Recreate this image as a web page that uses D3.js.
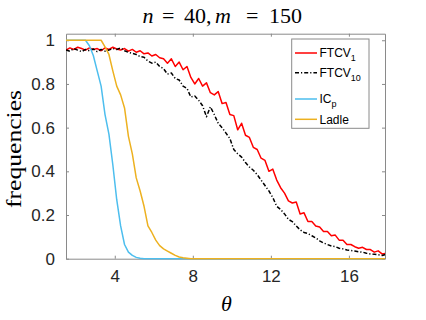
<!DOCTYPE html>
<html>
<head>
<meta charset="utf-8">
<script src="https://cdn.jsdelivr.net/npm/d3@7"></script>
<style>
html,body{margin:0;padding:0;background:#fff;}
svg{display:block;}
</style>
</head>
<body>
<svg id="chart" width="426" height="320"></svg>
<script>
// ---- data ----
const theta = [1.5,1.7,1.9,2.1,2.3,2.5,2.7,2.9,3.1,3.3,3.5,3.7,3.9,4.1,4.3,4.5,4.7,4.9,5.1,5.3,5.5,5.7,5.9,6.1,6.3,6.5,6.7,6.9,7.1,7.3,7.5,7.7,7.9,8.1,8.3,8.5,8.7,8.9,9.1,9.3,9.5,9.7,9.9,10.1,10.3,10.5,10.7,10.9,11.1,11.3,11.5,11.7,11.9,12.1,12.3,12.5,12.7,12.9,13.1,13.3,13.5,13.7,13.9,14.1,14.3,14.5,14.7,14.9,15.1,15.3,15.5,15.7,15.9,16.1,16.3,16.5,16.7,16.9,17.1,17.3,17.5,17.7,17.9];
const ftcv1 = [.955,.965,.958,.968,.962,.955,.965,.958,.962,.952,.965,.958,.968,.960,.955,.962,.950,.958,.945,.952,.938,.942,.928,.935,.920,.915,.895,.915,.880,.900,.865,.880,.830,.800,.825,.790,.805,.760,.750,.765,.710,.715,.660,.655,.590,.620,.565,.555,.510,.500,.460,.450,.400,.410,.360,.325,.300,.265,.255,.260,.205,.210,.170,.170,.150,.145,.125,.125,.105,.108,.085,.085,.065,.065,.055,.048,.052,.042,.042,.030,.036,.022,.025];
const ftcv10 = [.955,.950,.962,.955,.948,.958,.952,.960,.948,.958,.950,.955,.962,.958,.965,.952,.945,.940,.935,.925,.922,.905,.895,.900,.880,.870,.845,.850,.825,.818,.790,.780,.740,.745,.725,.700,.650,.695,.660,.620,.600,.575,.550,.500,.480,.465,.440,.420,.405,.385,.360,.335,.310,.280,.240,.225,.205,.180,.170,.150,.132,.120,.115,.105,.095,.082,.072,.065,.058,.055,.048,.045,.040,.038,.035,.032,.030,.025,.022,.020,.018,.015,.020];
const icp = [1,1,1,1,1,1,.975,.93,.86,.79,.66,.57,.43,.27,.15,.065,.03,.015,.006,.002,0,0,0,0,0,0,0,0,0,0,0,0,0,0,0,0,0,0,0,0,0,0,0,0,0,0,0,0,0,0,0,0,0,0,0,0,0,0,0,0,0,0,0,0,0,0,0,0,0,0,0,0,0,0,0,0,0,0,0,0,0,0,0];
const ladle = [1,1,1,1,1,1,1,1,1,1,.97,.935,.86,.79,.75,.69,.56,.48,.37,.31,.24,.15,.12,.085,.06,.045,.035,.025,.015,.008,.004,.002,0,0,0,0,0,0,0,0,0,0,0,0,0,0,0,0,0,0,0,0,0,0,0,0,0,0,0,0,0,0,0,0,0,0,0,0,0,0,0,0,0,0,0,0,0,0,0,0,0,0,0];
const xTicks = [4,8,12,16];
const yTicks = [0,0.2,0.4,0.6,0.8,1];
const yTickLabels = ["0","0.2","0.4","0.6","0.8","1"];
const seriesNames = ["FTCV","FTCV","IC","Ladle"];
const seriesSubs = ["1","10","p",""];
const seriesColors = ["#FF0000","#000000","#4DBEEE","#EDB120"];

// ---- layout ----
const L = 66, R = 385, T = 33.7, B = 258.7;
const svg = d3.select("#chart");
const x = d3.scaleLinear().domain([1.5, 17.85]).range([L, R]);
const y = d3.scaleLinear().domain([0, 1.03]).range([B, T]);

svg.append("defs").append("clipPath").attr("id","clip")
  .append("rect").attr("x",L).attr("y",T-2).attr("width",R-L).attr("height",B-T+3);

const axisColor = "#262626";
const tickFont = "'Liberation Sans', Arial, Helvetica, sans-serif";

const gx = svg.append("g").attr("transform",`translate(0,${B})`)
  .call(d3.axisBottom(x).tickValues(xTicks).tickSizeInner(-3).tickSizeOuter(0).tickPadding(11).tickFormat(d3.format("d")));
const gxt = svg.append("g").attr("transform",`translate(0,${T})`)
  .call(d3.axisTop(x).tickValues(xTicks).tickSizeInner(-3).tickSizeOuter(0).tickFormat(""));
const gy = svg.append("g").attr("transform",`translate(${L},0)`)
  .call(d3.axisLeft(y).tickValues(yTicks).tickSizeInner(-3).tickSizeOuter(0).tickPadding(11).tickFormat((d,i)=>yTickLabels[i]));
const gyr = svg.append("g").attr("transform",`translate(${R},0)`)
  .call(d3.axisRight(y).tickValues(yTicks).tickSizeInner(-3).tickSizeOuter(0).tickFormat(""));
[gx,gxt,gy,gyr].forEach(g=>{
  g.select(".domain").attr("stroke","#8a8a8a").attr("stroke-width",1);
  g.selectAll(".tick line").attr("stroke","#8a8a8a").attr("stroke-width",1);
  g.selectAll(".tick text").attr("fill",axisColor).attr("font-size",17).attr("font-family",tickFont);
});

const line = d3.line().x((d,i)=>x(theta[i])).y(d=>y(d));
const plot = svg.append("g").attr("clip-path","url(#clip)");
const allSeries = [ftcv1, ftcv10, icp, ladle];
const dashes = [null, "4,2,1.2,2", null, null];
allSeries.forEach((s,k)=>{
  plot.append("path").datum(s).attr("d",line)
    .attr("fill","none").attr("stroke",seriesColors[k]).attr("stroke-width",1.5)
    .attr("stroke-linejoin","round")
    .attr("stroke-dasharray",dashes[k]);
});

// title
const serif = "'Liberation Serif','DejaVu Serif',serif";
const title = svg.append("text").attr("y",22.5).attr("font-family",serif).attr("font-size",22).attr("fill","#000");
title.append("tspan").attr("x",142.5).attr("font-style","italic").text("n");
title.append("tspan").attr("x",162).text("=");
title.append("tspan").attr("x",184).text("40,");
title.append("tspan").attr("x",215).attr("font-style","italic").text("m");
title.append("tspan").attr("x",246).text("=");
title.append("tspan").attr("x",269).text("150");

svg.append("text").attr("transform","translate(20.5,149) rotate(-90)")
  .attr("text-anchor","middle").attr("font-family",serif).attr("font-size",22)
  .attr("textLength",118).attr("lengthAdjust","spacingAndGlyphs")
  .attr("fill","#000").text("frequencies");
svg.append("text").attr("x",226.5).attr("y",311).attr("text-anchor","middle")
  .attr("font-family",serif).attr("font-style","italic").attr("font-size",22)
  .attr("fill","#000").text("θ");

const lg = svg.append("g");
lg.append("rect").attr("x",291.7).attr("y",39).attr("width",77.3).attr("height",89.3)
  .attr("fill","#fff").attr("stroke","#8a8a8a").attr("stroke-width",1);
const legendY = [53, 72.7, 99, 119.3];
seriesNames.forEach((nm,k)=>{
  lg.append("line").attr("x1",295).attr("x2",317).attr("y1",legendY[k]).attr("y2",legendY[k])
    .attr("stroke",seriesColors[k]).attr("stroke-width",1.5).attr("stroke-dasharray",dashes[k]);
  const t = lg.append("text").attr("x",319.5).attr("y",legendY[k]+4.3)
    .attr("font-family",tickFont).attr("font-size",12).attr("fill","#000");
  t.append("tspan").text(nm);
  if (seriesSubs[k]) t.append("tspan").attr("dy",4).attr("font-size",9).text(seriesSubs[k]);
});
</script>
</body>
</html>
